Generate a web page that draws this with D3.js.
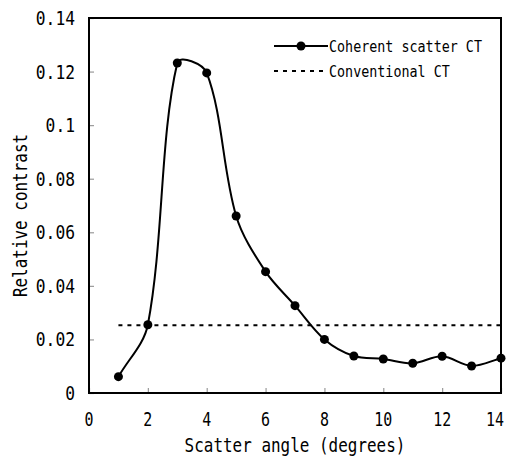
<!DOCTYPE html>
<html><head><meta charset="utf-8">
<script src="https://cdn.jsdelivr.net/npm/d3@7"></script>
<style>body{margin:0;background:#fff}svg{display:block}</style>
</head><body><svg id="c" width="511" height="459"></svg>
<script>
const angles = [1,2,3,4,5,6,7,8,9,10,11,12,13,14];
const coherent = [0.0061,0.0255,0.1232,0.1195,0.0661,0.0453,0.0326,0.0200,0.0138,0.0127,0.0111,0.0137,0.0101,0.0130];
const conventionalX = [1,14];
const conventional = [0.0253,0.0253];
const xTicks = [0,2,4,6,8,10,12,14];
const yTicks = [0,0.02,0.04,0.06,0.08,0.1,0.12,0.14];
const yTickLabels = ["0","0.02","0.04","0.06","0.08","0.1","0.12","0.14"];
const seriesNames = ["Coherent scatter CT","Conventional CT"];
const xTitle = "Scatter angle (degrees)";
const yTitle = "Relative contrast";

const FONT = "'DejaVu Sans Mono','Liberation Mono',monospace";
const svg = d3.select("#c");
const L=89,R=501,T=18,B=393;
const x = d3.scaleLinear().domain([0,14]).range([L,R]);
const y = d3.scaleLinear().domain([0,0.14]).range([B,T]);

function mono(sel, size, charW){
  sel.attr("font-family",FONT).attr("font-size",size)
    .each(function(){
      const t=d3.select(this).text();
      d3.select(this).attr("textLength",t.length*charW).attr("lengthAdjust","spacingAndGlyphs");
    });
  return sel;
}

// Excel-like smoothing: Bezier control points weighted by chord lengths
function smoothPath(p){
  const path = d3.path();
  const dist=(a,b)=>Math.hypot(b[0]-a[0],b[1]-a[1]);
  const s=1/3;
  path.moveTo(p[0][0],p[0][1]);
  for(let i=0;i<p.length-1;i++){
    const p0=p[Math.max(i-1,0)], p1=p[i], p2=p[i+1], p3=p[Math.min(i+2,p.length-1)];
    const d01=dist(p0,p1), d12=dist(p1,p2), d23=dist(p2,p3);
    const f1=s*d12/(d01+d12), f2=s*d12/(d12+d23);
    const c1=[p1[0]+(p2[0]-p0[0])*f1, p1[1]+(p2[1]-p0[1])*f1];
    const c2=[p2[0]-(p3[0]-p1[0])*f2, p2[1]-(p3[1]-p1[1])*f2];
    path.bezierCurveTo(c1[0],c1[1],c2[0],c2[1],p2[0],p2[1]);
  }
  return path.toString();
}

// ticks (inward)
const xa = d3.axisBottom(x).tickValues(xTicks).tickSize(-5).tickFormat("");
const ya = d3.axisLeft(y).tickValues(yTicks).tickSize(-5).tickFormat("");
svg.append("g").attr("transform",`translate(0,${B})`).call(xa)
  .call(g=>{g.select(".domain").remove();g.selectAll("line").attr("stroke","#999").attr("stroke-width",1.2);});
svg.append("g").attr("transform",`translate(${L},0)`).call(ya)
  .call(g=>{g.select(".domain").remove();g.selectAll("line").attr("stroke","#999").attr("stroke-width",1.2);});

// frame
svg.append("rect").attr("x",L).attr("y",T).attr("width",R-L).attr("height",B-T)
  .attr("fill","none").attr("stroke","#000").attr("stroke-width",2);

// tick labels
const last = xTicks[xTicks.length-1];
svg.append("g").selectAll("text").data(xTicks).join("text")
  .attr("x",d=>d===last ? x(d)+3 : x(d)).attr("y",426)
  .attr("text-anchor",d=>d===last ? "end" : "middle").text(d=>String(d))
  .call(s=>mono(s,19,9));
svg.append("g").selectAll("text").data(yTicks).join("text")
  .attr("x",75).attr("y",d=>y(d)+7).attr("text-anchor","end").text((d,i)=>yTickLabels[i])
  .call(s=>mono(s,19,9.8));

// axis titles
svg.append("text").attr("x",(L+R)/2).attr("y",452).attr("text-anchor","middle").text(xTitle)
  .call(s=>mono(s,20,9.6));
svg.append("text").attr("transform",`translate(27,${(T+B)/2+10}) rotate(-90)`).attr("text-anchor","middle").text(yTitle)
  .call(s=>mono(s,20,9.6));

// conventional dashed
svg.append("path").datum(conventionalX.map((v,i)=>[v,conventional[i]]))
  .attr("d",d3.line().x(d=>x(d[0])).y(d=>y(d[1])))
  .attr("fill","none").attr("stroke","#000").attr("stroke-width",2).attr("stroke-dasharray","4,5");

// coherent smooth line
const pts = angles.map((a,i)=>[a,coherent[i]]);
svg.append("path").attr("d",smoothPath(pts.map(d=>[x(d[0]),y(d[1])])))
  .attr("fill","none").attr("stroke","#000").attr("stroke-width",2);
svg.append("g").selectAll("circle").data(pts).join("circle")
  .attr("cx",d=>x(d[0])).attr("cy",d=>y(d[1])).attr("r",4.5).attr("fill","#000");

// legend
const lg = svg.append("g");
lg.append("line").attr("x1",274).attr("x2",328).attr("y1",46).attr("y2",46).attr("stroke","#000").attr("stroke-width",2);
lg.append("circle").attr("cx",301).attr("cy",46).attr("r",4.5).attr("fill","#000");
lg.append("line").attr("x1",274).attr("x2",328).attr("y1",71).attr("y2",71).attr("stroke","#000").attr("stroke-width",2).attr("stroke-dasharray","4,5");
lg.selectAll("text.l").data(seriesNames).join("text").attr("class","l")
  .attr("x",329).attr("y",(d,i)=>46+25*i+5.5).text(d=>d).call(s=>mono(s,15,8.05));
</script></body></html>
